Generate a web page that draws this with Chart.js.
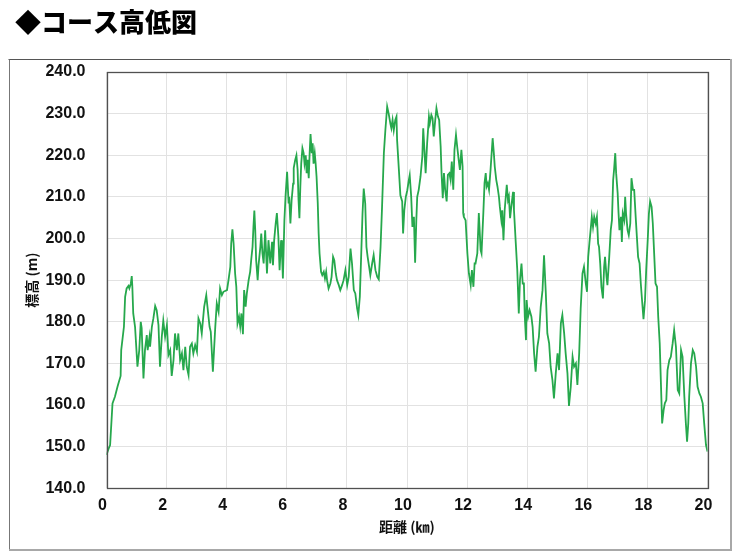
<!DOCTYPE html>
<html>
<head>
<meta charset="utf-8">
<script src="https://cdn.jsdelivr.net/npm/chart.js@4/dist/chart.umd.min.js"></script>
<style>
html,body{margin:0;padding:0;background:#fff;}
canvas{display:block;}
</style>
</head>
<body>
<canvas id="c" width="740" height="560"></canvas>
<script>
const chartTitle = '◆コース高低図';
const xAxisTitle = '距離 (㎞)';
const yAxisTitle = '標高 (m)';
const xTicks = [0, 2, 4, 6, 8, 10, 12, 14, 16, 18, 20];
const yTicks = [140, 150, 160, 170, 180, 190, 200, 210, 220, 230, 240];

const distanceKm = [
0.00,0.07,0.12,0.20,0.28,0.37,0.47,0.49,0.58,0.62,0.67,0.73,0.76,0.81,0.84,0.86,0.89,0.95,
1.03,1.09,1.14,1.17,1.23,1.28,1.34,1.37,1.43,1.45,1.51,1.56,1.62,1.67,1.73,1.78,1.84,1.89,1.95,
2.01,2.06,2.12,2.17,2.23,2.28,2.34,2.39,2.45,2.51,2.56,2.62,2.67,2.73,2.78,2.84,2.89,2.95,
3.01,3.06,3.12,3.17,3.25,3.32,3.36,3.43,3.47,3.54,3.62,3.67,3.73,3.78,3.84,3.89,
4.01,4.06,4.12,4.15,4.19,4.23,4.28,4.32,4.36,4.41,4.45,4.49,4.54,4.58,4.63,4.67,4.73,4.78,4.82,4.86,4.89,4.92,4.95,4.98,
5.03,5.06,5.12,5.15,5.19,5.23,5.28,5.34,5.39,5.45,5.51,5.54,5.58,5.63,5.67,5.72,5.76,5.81,5.84,5.87,5.92,5.96,
6.01,6.06,6.08,6.12,6.16,6.21,6.23,6.28,6.32,6.36,6.39,6.42,6.45,6.48,6.52,6.56,6.59,6.63,6.66,6.69,6.73,6.76,6.79,6.83,6.86,6.89,6.93,6.96,6.99,
7.03,7.06,7.09,7.14,7.18,7.23,7.27,7.31,7.34,7.39,7.45,7.49,7.54,7.58,7.63,7.67,7.73,7.78,7.84,7.89,7.95,
8.01,8.06,8.12,8.17,8.23,8.28,8.34,8.38,8.43,8.47,8.52,8.56,8.61,8.65,8.69,8.74,8.78,8.84,8.89,8.95,
9.01,9.06,9.12,9.17,9.23,9.28,9.34,9.39,9.45,9.48,9.52,9.56,9.61,9.65,9.67,9.73,9.78,9.84,9.87,9.91,9.96,
10.01,10.06,10.09,10.14,10.18,10.23,10.27,10.31,10.34,10.39,10.45,10.51,10.54,10.58,10.62,10.67,10.73,10.76,10.81,10.85,10.89,10.94,10.98,
11.03,11.07,11.12,11.15,11.19,11.23,11.27,11.32,11.36,11.41,11.45,11.49,11.54,11.58,11.63,11.67,11.72,11.76,11.81,11.85,11.87,11.89,11.95,
12.01,12.06,12.12,12.16,12.21,12.25,12.28,12.34,12.39,12.45,12.48,12.54,12.58,12.62,12.65,12.69,12.73,12.78,12.85,12.89,12.92,12.97,
13.01,13.06,13.09,13.14,13.17,13.21,13.25,13.32,13.36,13.39,13.43,13.47,13.53,13.56,13.62,13.67,13.72,13.76,13.81,13.85,13.89,13.92,13.96,13.98,
14.03,14.08,14.14,14.18,14.23,14.28,14.34,14.39,14.45,14.51,14.56,14.62,14.67,14.73,14.78,14.84,14.89,14.95,
15.01,15.06,15.12,15.17,15.23,15.28,15.34,15.39,15.45,15.51,15.56,15.62,15.67,15.73,15.78,15.84,15.89,15.95,15.99,
16.03,16.07,16.12,16.15,16.19,16.23,16.28,16.32,16.36,16.39,16.43,16.47,16.52,16.56,16.59,16.64,16.67,16.73,16.78,16.82,16.86,16.89,16.93,16.96,
17.01,17.04,17.07,17.12,17.15,17.18,17.23,17.26,17.29,17.34,17.38,17.43,17.47,17.52,17.56,17.61,17.65,17.69,17.74,17.78,17.83,17.87,17.92,17.96,
18.01,18.05,18.09,18.14,18.18,18.23,18.27,18.32,18.36,18.41,18.45,18.49,18.54,18.58,18.63,18.67,18.73,18.78,18.84,18.89,18.95,
19.01,19.06,19.12,19.17,19.23,19.28,19.32,19.36,19.39,19.45,19.51,19.56,19.62,19.67,19.73,19.78,19.84,19.89,19.95,20.00
];

const elevationM = [
148.0,149.5,150.4,160.4,162.0,164.5,167.0,173.2,178.8,186.0,188.0,188.6,188.0,189.2,191.0,188.4,182.0,178.8,
169.2,173.2,180.0,178.5,166.4,173.2,176.8,173.2,176.3,174.0,178.8,180.8,183.8,182.8,179.2,169.2,176.4,180.3,176.4,
179.2,172.0,173.2,167.0,170.8,177.2,173.2,177.2,170.8,172.4,168.4,174.0,169.2,167.2,174.0,174.8,172.4,174.4,
172.8,180.8,179.6,177.2,183.6,186.4,183.6,178.8,177.6,168.0,178.8,184.4,182.4,188.0,186.4,187.2,
187.6,190.0,193.2,198.8,202.2,198.8,191.6,188.4,179.6,181.2,178.8,182.0,177.0,187.6,183.6,186.8,190.0,192.0,195.2,198.0,202.8,206.7,202.0,194.8,
190.0,193.6,198.0,201.2,196.4,194.0,202.0,191.6,199.6,194.0,199.2,193.6,199.6,203.6,206.1,200.4,192.4,199.6,196.4,190.4,204.4,210.4,
216.0,208.4,210.0,203.6,209.2,213.2,216.9,218.9,220.0,216.5,209.3,204.9,212.4,218.0,221.7,220.5,218.0,220.0,215.7,218.9,214.5,220.5,225.1,220.5,222.9,218.0,220.5,218.0,214.9,
208.5,201.2,196.4,192.0,191.2,192.0,190.4,192.0,190.0,188.0,189.2,190.8,195.6,194.8,191.6,190.0,188.8,187.6,188.8,190.0,192.4,
188.8,190.8,197.6,194.0,187.6,186.8,183.2,181.6,186.0,194.8,206.0,212.0,208.4,198.0,195.6,193.2,191.2,194.0,196.0,192.4,
190.8,190.2,198.0,207.6,220.5,226.0,231.7,230.0,227.5,226.5,228.5,226.0,228.5,229.3,223.7,216.5,210.4,208.9,201.2,206.8,210.0,
211.6,214.0,215.2,210.0,202.8,205.2,194.2,204.4,210.0,211.7,214.9,219.7,226.5,221.3,215.7,222.9,229.3,227.7,229.7,228.9,224.5,228.5,231.3,
229.3,228.5,222.1,215.7,209.7,215.7,211.7,208.9,215.3,215.7,214.1,218.5,211.7,221.3,224.9,222.1,218.9,216.5,221.3,217.3,206.1,205.2,204.4,
196.4,191.6,188.8,192.4,188.4,194.0,194.0,196.4,206.1,197.2,196.4,206.1,213.3,215.7,212.5,213.3,211.7,216.5,224.1,220.5,217.3,214.1,
212.5,210.0,207.6,204.4,206.8,199.6,206.8,212.9,209.3,210.1,204.9,207.6,211.2,206.8,198.9,192.4,182.0,190.0,194.0,189.2,189.2,181.2,175.6,185.2,
181.2,182.8,181.2,178.8,172.4,168.0,174.0,176.4,183.6,187.6,196.0,186.8,177.2,174.8,169.2,166.0,161.6,167.6,
172.4,168.4,179.6,181.6,177.2,172.4,167.6,159.8,164.4,171.6,169.2,170.0,164.8,172.4,183.2,191.6,193.2,189.2,187.2,
195.6,198.9,202.8,205.2,202.8,205.2,203.6,205.2,198.8,198.0,194.0,188.4,185.6,193.2,195.6,190.8,188.8,195.6,202.0,204.4,214.0,216.5,220.5,215.7,
210.9,206.1,202.0,205.2,199.2,206.0,204.4,210.0,206.0,202.0,200.8,203.6,214.5,211.7,211.7,205.2,200.4,195.6,194.0,189.2,184.4,180.6,185.2,192.4,
199.6,206.0,208.9,207.6,203.6,195.6,189.2,188.4,181.2,174.8,165.2,155.6,158.8,160.4,161.2,168.4,170.8,171.6,174.8,178.0,174.0,
163.6,162.8,173.2,171.6,162.0,155.6,151.2,155.6,162.0,170.0,173.2,172.4,169.2,164.4,162.8,162.0,160.4,155.6,150.4,148.8
];

const points = distanceKm.map((d, i) => ({ x: d, y: elevationM[i] }));

const frames = {
  id: 'frames',
  beforeDraw(chart) {
    const ctx = chart.ctx;
    ctx.save();
    ctx.fillStyle = '#ffffff';
    ctx.fillRect(0, 0, chart.width, chart.height);
    ctx.restore();
  },
  afterDraw(chart) {
    const ctx = chart.ctx;
    const a = chart.chartArea;
    ctx.save();
    ctx.lineWidth = 1;
    ctx.strokeStyle = '#555555';
    ctx.beginPath(); ctx.moveTo(8.5, 59.5); ctx.lineTo(730, 59.5); ctx.stroke();
    ctx.strokeStyle = '#777777';
    ctx.beginPath(); ctx.moveTo(9.5, 59.5); ctx.lineTo(9.5, 550); ctx.stroke();
    ctx.lineWidth = 2;
    ctx.strokeStyle = '#a8a8a8';
    ctx.beginPath(); ctx.moveTo(731, 59); ctx.lineTo(731, 551); ctx.stroke();
    ctx.beginPath(); ctx.moveTo(9, 550); ctx.lineTo(732, 550); ctx.stroke();
    ctx.lineWidth = 1.3;
    ctx.strokeStyle = '#505050';
    ctx.strokeRect(Math.round(a.left) + 0.5, Math.round(a.top) + 0.5, Math.round(a.right - a.left), Math.round(a.bottom - a.top));
    ctx.restore();
  }
};

const tickFont = { family: '"Liberation Sans Narrow", "Arial Narrow", sans-serif', size: 16, weight: 'bold' };
const cjkBold = '"Noto Sans CJK JP", "Noto Sans", sans-serif';

new Chart(document.getElementById('c'), {
  type: 'line',
  data: {
    datasets: [{
      data: points,
      borderColor: '#26a84c',
      borderWidth: 1.8,
      pointRadius: 0,
      tension: 0,
      fill: false
    }]
  },
  options: {
    responsive: false,
    animation: false,
    layout: { padding: { left: 15, right: 32.5, top: 0, bottom: 24.6 } },
    plugins: {
      legend: { display: false },
      tooltip: { enabled: false },
      title: {
        display: true,
        text: chartTitle,
        align: 'start',
        color: '#000000',
        font: { family: cjkBold, size: 26, weight: 900 },
        padding: { top: 6.4, bottom: 34.4 }
      }
    },
    scales: {
      x: {
        type: 'linear',
        min: 0,
        max: 20,
        afterBuildTicks(scale) { scale.ticks = xTicks.map(v => ({ value: v })); },
        afterFit(scale) { scale.height = 47.1; },
        ticks: {
          color: '#111111',
          font: tickFont,
          padding: 8,
          maxRotation: 0,
          labelOffset: -4,
          callback: v => String(v)
        },
        grid: { color: '#e2e2e2', lineWidth: 1, drawTicks: false },
        border: { display: false },
        title: {
          display: true,
          text: xAxisTitle,
          color: '#111111',
          font: { family: cjkBold, size: 14, weight: 'bold' },
          padding: { top: 3, bottom: 0 }
        }
      },
      y: {
        type: 'linear',
        min: 140,
        max: 240,
        afterBuildTicks(scale) { scale.ticks = yTicks.map(v => ({ value: v })); },
        afterFit(scale) { scale.width = 91.5; },
        ticks: {
          color: '#111111',
          font: tickFont,
          padding: 21,
          callback: v => Number(v).toFixed(1)
        },
        grid: { color: '#e2e2e2', lineWidth: 1, drawTicks: false },
        border: { display: false },
        title: {
          display: true,
          text: yAxisTitle,
          color: '#111111',
          font: { family: cjkBold, size: 14, weight: 'bold' },
          padding: { top: 8.6, bottom: 0 }
        }
      }
    }
  },
  plugins: [frames]
});
</script>
</body>
</html>
